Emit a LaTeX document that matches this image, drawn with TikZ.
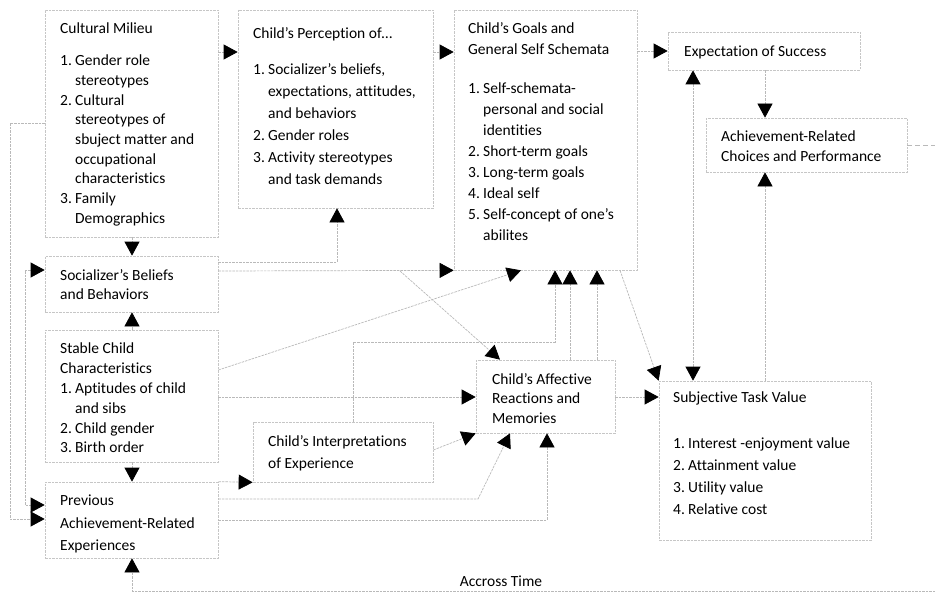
\documentclass[tikz,border=0pt]{standalone}
\usepackage{fontspec}
\setmainfont{Carlito}[Ligatures={TeX,NoCommon}]
\usetikzlibrary{arrows.meta,fit,calc}
\newcommand\nm[1]{\makebox[15pt][l]{#1}}
\newcommand\ind{\hspace*{15pt}}
\tikzset{
 box/.style={draw=gray!45, line width=0.7pt, dash pattern=on 2.5pt off 1pt, inner sep=0pt},
 conn/.style={draw=gray!55, line width=0.7pt, dash pattern=on 2.5pt off 1pt},
 tip/.tip={Triangle[length=14pt,width=15pt,color=black,fill=black]},
 arr/.style={conn, -tip},
 darr/.style={conn, tip-tip},
 txt/.style={anchor=north west, inner sep=0pt, align=left},
 fs/.style={font=\fontsize{15.5}{#1}\selectfont},
}
\begin{document}
\begin{tikzpicture}[x=1pt,y=-1pt]
\useasboundingbox (0,0) rectangle (935,594);
% boxes
\node[box, fit={(45,10) (218,237)}] (cm) {};
\node[box, fit={(238,10) (433,208)}] (cp) {};
\node[box, fit={(454,10) (637,270)}] (cg) {};
\node[box, fit={(668,32) (860,70)}] (es) {};
\node[box, fit={(706,118) (907,172)}] (ac) {};
\node[box, fit={(45,256) (218,312)}] (sb) {};
\node[box, fit={(45,330) (218,462)}] (sc) {};
\node[box, fit={(45,482) (218,558)}] (pa) {};
\node[box, fit={(253,422) (433,482)}] (ci) {};
\node[box, fit={(476,360) (615,433)}] (ar) {};
\node[box, fit={(659,381) (871,540)}] (stv) {};
% texts
\node[txt, fs=19.7] (t-cm) at (60,23) {Cultural Milieu\\[12pt]
\nm{1.}Gender role\\
\ind stereotypes\\
\nm{2.}Cultural\\
\ind stereotypes of\\
\ind sbuject matter and\\
\ind occupational\\
\ind characteristics\\
\nm{3.}Family\\
\ind Demographics};
\node[txt, fs=22] (t-cp) at (253,27) {Child’s Perception of…\\[14pt]
\nm{1.}Socializer’s beliefs,\\
\ind expectations, attitudes,\\
\ind and behaviors\\
\nm{2.}Gender roles\\
\nm{3.}Activity stereotypes\\
\ind and task demands};
\node[txt, fs=21] (t-cg) at (468,22) {Child’s Goals and\\
General Self Schemata\\[18pt]
\nm{1.}Self-schemata-\\
\ind personal and social\\
\ind identities\\
\nm{2.}Short-term goals\\
\nm{3.}Long-term goals\\
\nm{4.}Ideal self\\
\nm{5.}Self-concept of one’s\\
\ind abilites};
\node[txt, fs=20] (t-es) at (684,46) {Expectation of Success};
\node[txt, fs=20] (t-ac) at (721,131) {Achievement-Related\\Choices and Performance};
\node[txt, fs=19.5] (t-sb) at (60,269) {Socializer’s Beliefs\\and Behaviors};
\node[txt, fs=19.8] (t-sc) at (60,343) {Stable Child\\Characteristics\\
\nm{1.}Aptitudes of child\\
\ind and sibs\\
\nm{2.}Child gender\\
\nm{3.}Birth order};
\node[txt, fs=22.5] (t-pa) at (60,495) {Previous\\Achievement-Related\\Experiences};
\node[txt, fs=22] (t-ci) at (268,435) {Child’s Interpretations\\of Experience};
\node[txt, fs=19.5] (t-ar) at (492,373) {Child’s Affective\\Reactions and\\Memories};
\node[txt, fs=22] (t-stv) at (673,392) {Subjective Task Value\\[24pt]
\nm{1.}Interest -enjoyment value\\
\nm{2.}Attainment value\\
\nm{3.}Utility value\\
\nm{4.}Relative cost};
\node[font=\fontsize{15.5}{18}\selectfont, inner sep=0pt] (t-time) at (501,581) {Accross Time};
% junction / free-end coordinates
\coordinate (j1) at (400,271);
\coordinate (r1) at (935,145);
\coordinate (b1) at (935,591);
% top row
\draw[arr] (cm.east |- 0,52) -- (cp.west |- 0,52);
\draw[arr] (cp.east |- 0,52) -- (cg.west |- 0,52);
\draw[arr] (cg.east |- es.west) -- (es.west);
\draw[arr] (es.south -| 765,0) -- (ac.north -| 765,0);
\draw[arr] (stv.north -| 765,0) -- (ac.south -| 765,0);
\draw[darr] (stv.north -| 693,0) -- (es.south -| 693,0);
\draw[conn, dash pattern=on 5pt off 3pt] (ac.east) -- (r1);
% goals and affective
\draw[arr] (cg.south -| 620,0) -- (stv.north west);
\draw[arr] (ar.east |- 0,397) -- (stv.west |- 0,397);
\draw[arr] (sb.east |- 0,271) -- (cg.south west);
\draw[arr] (sb.east |- 0,262) -- (337,262) -- (cp.south -| 337,0);
\draw[arr] (j1) -- (ar.north -| 500,0);
\draw[arr] (sc.east |- 0,370) -- (cg.south -| 521,0);
\draw[arr] (ci.north -| 353,0) -- (353,342) -- (555,342) -- (cg.south -| 555,0);
\draw[arr] (ar.north -| 570,0) -- (cg.south -| 570,0);
\draw[arr] (ar.north -| 597,0) -- (cg.south -| 597,0);
\draw[arr] (sc.east |- 0,397) -- (ar.west |- 0,397);
% left column
\draw[arr] (cm.south -| 132,0) -- (sb.north -| 132,0);
\draw[arr] (sc.north -| 132,0) -- (sb.south -| 132,0);
\draw[arr] (sc.south -| 132,0) -- (pa.north -| 132,0);
\draw[arr] (pa.north east) -- (ci.south west);
\draw[arr] (ci.east |- 0,450) -- (ar.south west);
\draw[arr] (pa.east |- 0,499) -- (478,499) -- (ar.south -| 510,0);
\draw[arr] (pa.east |- 0,520) -- (547,520) -- (ar.south -| 547,0);
\draw[arr] (cm.west |- 0,123) -- (10,123) -- (10,519) -- (pa.west |- 0,519);
\draw[darr] (sb.west |- 0,270) -- (25,270) -- (25,505) -- (pa.west |- 0,505);
\draw[arr] (b1) -- (132,591) -- (pa.south -| 132,0);
\end{tikzpicture}
\end{document}
